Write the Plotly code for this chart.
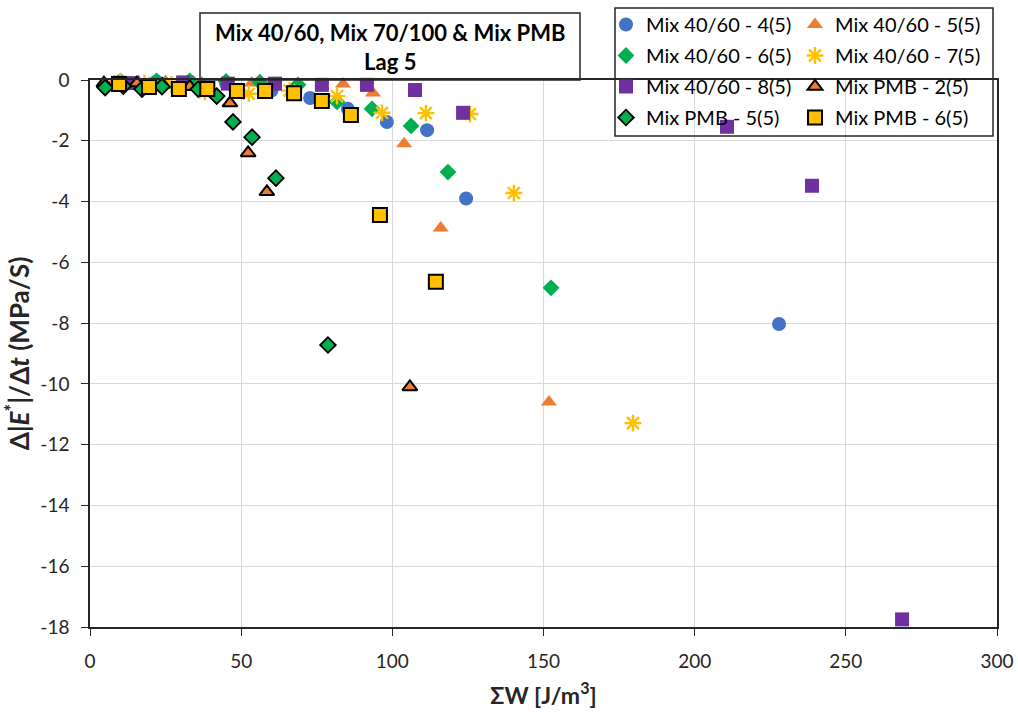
import plotly.graph_objects as go

# ---- data ----
x_4060_4 = [10, 22, 33, 45, 60, 72.8, 85.3, 98.2, 111.5, 124.4, 227.9]
y_4060_4 = [-0.05, -0.05, -0.05, -0.1, -0.35, -0.59, -0.95, -1.38, -1.65, -3.9, -8.03]

x_4060_5 = [8, 16, 25, 37, 53.5, 83.7, 93.6, 103.9, 116.0, 151.8]
y_4060_5 = [-0.05, -0.05, -0.05, -0.1, -0.1, -0.13, -0.43, -2.1, -4.87, -10.6]

x_4060_6 = [10, 22, 33, 45, 56.2, 68.8, 81.7, 93.3, 106.2, 118.4, 152.5]
y_4060_6 = [-0.03, -0.03, -0.03, -0.05, -0.07, -0.16, -0.72, -0.95, -1.51, -3.03, -6.84]

x_4060_7 = [10, 18, 27, 38, 52.5, 66, 81.7, 96.6, 111.1, 125.7, 140.2, 179.6]
y_4060_7 = [-0.05, -0.1, -0.15, -0.4, -0.45, -0.35, -0.53, -1.08, -1.09, -1.12, -3.72, -11.29]

x_4060_8 = [14, 30.8, 45.6, 61.2, 76.7, 91.6, 107.5, 123.4, 210.7, 238.8, 268.6]
y_4060_8 = [-0.1, -0.08, -0.12, -0.12, -0.16, -0.16, -0.33, -1.08, -1.54, -3.48, -17.75]

x_pmb_2 = [4.6, 15.5, 24, 33, 46.3, 52.3, 58.5, 105.8]
y_pmb_2 = [-0.1, -0.1, -0.15, -0.22, -0.76, -2.4, -3.68, -10.1]

x_pmb_5 = [5, 11, 17.2, 23.8, 35.8, 41.9, 47.3, 53.6, 61.5, 78.7]
y_pmb_5 = [-0.25, -0.2, -0.3, -0.22, -0.3, -0.53, -1.38, -1.88, -3.23, -8.72]

x_pmb_6 = [9.6, 19.5, 29.4, 38.8, 48.6, 57.9, 67.5, 76.7, 86.3, 95.9, 114.4]
y_pmb_6 = [-0.13, -0.23, -0.3, -0.3, -0.36, -0.36, -0.44, -0.69, -1.15, -4.44, -6.64]

x_ticks = [0, 50, 100, 150, 200, 250, 300]
y_ticks = [0, -2, -4, -6, -8, -10, -12, -14, -16, -18]

FONT = "Lato"
BLUE, ORANGE, GREEN, YELLOW, PURPLE = "#4472C4", "#ED7D31", "#00B050", "#FFC000", "#7030A0"

series = [
    ("Mix 40/60 - 4(5)", x_4060_4, y_4060_4, dict(symbol="circle", size=14, color=BLUE, line=dict(width=0)), "legend"),
    ("Mix 40/60 - 5(5)", x_4060_5, y_4060_5, dict(symbol="triangle-up", size=14, color=ORANGE, line=dict(width=0)), "legend2"),
    ("Mix 40/60 - 6(5)", x_4060_6, y_4060_6, dict(symbol="diamond", size=13, color=GREEN, line=dict(width=0)), "legend"),
    ("Mix 40/60 - 7(5)", x_4060_7, y_4060_7, dict(symbol="asterisk-open", size=14, color=YELLOW, line=dict(width=2.4, color=YELLOW)), "legend2"),
    ("Mix 40/60 - 8(5)", x_4060_8, y_4060_8, dict(symbol="square", size=14, color=PURPLE, line=dict(width=0)), "legend"),
    ("Mix PMB - 2(5)", x_pmb_2, y_pmb_2, dict(symbol="triangle-up", size=13, color=ORANGE, line=dict(width=2, color="black")), "legend2"),
    ("Mix PMB - 5(5)", x_pmb_5, y_pmb_5, dict(symbol="diamond", size=12, color=GREEN, line=dict(width=1.8, color="black")), "legend"),
    ("Mix PMB - 6(5)", x_pmb_6, y_pmb_6, dict(symbol="square", size=14, color=YELLOW, line=dict(width=2, color="black")), "legend2"),
]

fig = go.Figure()
for i, (name, xs, ys, mk, lg) in enumerate(series):
    fig.add_trace(go.Scatter(
        x=xs, y=ys, mode="markers", name=name, marker=mk,
        cliponaxis=False, legend=lg, legendgroup=f"g{i}",
    ))

W, H = 1018, 715
L, R, T, B = 90, 21, 80, 88
pw, ph = W - L - R, H - T - B

def px2x(px):
    return (px - L) / pw

def py2y(py):
    return (H - B - py) / ph

legend_common = dict(
    bgcolor="rgba(0,0,0,0)", borderwidth=0,
    font=dict(family=FONT, size=20, color="#000000"),
    yanchor="bottom", xanchor="left", tracegroupgap=2,
    itemwidth=30,
)

fig.update_layout(
    width=W, height=H,
    margin=dict(l=L, r=R, t=T, b=B, autoexpand=False),
    plot_bgcolor="white", paper_bgcolor="white",
    font=dict(family=FONT, size=16, color="#000000"),
    showlegend=True,
    legend=dict(x=px2x(606), y=py2y(137), **legend_common),
    legend2=dict(x=px2x(795), y=py2y(137), **legend_common),
    xaxis=dict(
        range=[0, 300], tickvals=x_ticks, ticktext=[str(v) for v in x_ticks],
        showgrid=True, gridcolor="#D9D9D9", gridwidth=1,
        showline=True, linecolor="#262626", linewidth=1.5, mirror=True,
        ticks="outside", ticklen=7, tickcolor="#262626", tickwidth=1.2,
        ticklabelstandoff=9, automargin=False,
        tickfont=dict(family=FONT, size=19, color="#262626"),
        zeroline=False,
        title=dict(text="<b>ΣW [J/m<sup>3</sup>]</b>", font=dict(family=FONT, size=23, color="#262626"), standoff=17),
    ),
    yaxis=dict(
        range=[-18, 0], tickvals=y_ticks, ticktext=[str(v) for v in y_ticks],
        showgrid=True, gridcolor="#D9D9D9", gridwidth=1,
        showline=True, linecolor="#262626", linewidth=1.5, mirror=True,
        ticks="outside", ticklen=7, tickcolor="#262626", tickwidth=1.2,
        ticklabelstandoff=8, automargin=False,
        tickfont=dict(family=FONT, size=19, color="#262626"),
        zeroline=False,
        title=dict(text="<b>Δ|<i>E</i><sup>*</sup>|/Δ<i>t</i> (MPa/S)</b>", font=dict(family=FONT, size=26, color="#262626"), standoff=6),
    ),
    shapes=[
        dict(type="rect", xref="paper", yref="paper",
             x0=px2x(200), x1=px2x(580), y0=py2y(80), y1=py2y(13),
             line=dict(color="#262626", width=1.5), fillcolor="rgba(0,0,0,0)"),
        dict(type="rect", xref="paper", yref="paper",
             x0=px2x(615), x1=px2x(993), y0=py2y(136), y1=py2y(8),
             line=dict(color="#262626", width=1.5), fillcolor="rgba(0,0,0,0)"),
    ],
    annotations=[
        dict(text="<b>Mix 40/60, Mix 70/100 &amp; Mix PMB<br>Lag 5</b>",
             xref="paper", yref="paper", x=px2x(390), y=py2y(47),
             xanchor="center", yanchor="middle", showarrow=False,
             font=dict(family=FONT, size=22, color="#000000")),
    ],
)

fig.write_html(
    "out.html",
    config={"displayModeBar": False},
    post_script="document.body.style.margin='0';document.body.style.padding='0';",
)
